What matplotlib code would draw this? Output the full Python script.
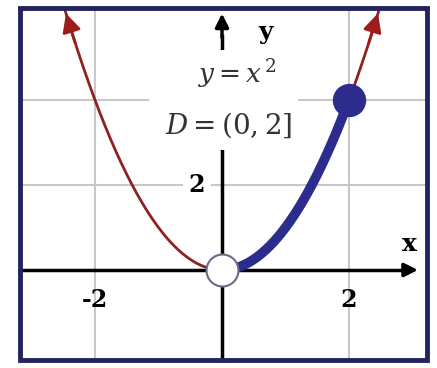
import numpy as np
import matplotlib.pyplot as plt
from matplotlib.patches import Rectangle

# the function shown on the chart, y = x^2
x_min, x_max = -2.47, 2.47
domain = [0, 2]            # D = (0, 2]
x_grid = [-2, 2]
y_grid = [2, 4]
x_ticks = [-2, 2]
x_tick_labels = ["-2", "2"]
y_ticks = [2]
y_tick_labels = ["2"]

red = "#8e2222"
blue = "#2c2c8c"
navy = "#23235e"

fig = plt.figure(figsize=(4.37, 3.68), dpi=100)
ax = fig.add_axes([0, 0, 1, 1])
ax.set_xlim(-3.496, 3.386)
ax.set_ylim(-2.306, 6.353)
ax.axis("off")

# grid
for gx in x_grid:
    ax.plot([gx, gx], [-2.12, 6.16], color="#c8c8c8", lw=1.5, zorder=1)
for gy in y_grid:
    ax.plot([-3.18, 3.23], [gy, gy], color="#c8c8c8", lw=1.5, zorder=1)

# axes with arrows
ax.plot([-3.18, 2.95], [0, 0], color="black", lw=2.5, zorder=2)
ax.annotate("", xy=(3.13, 0), xytext=(2.9, 0),
            arrowprops=dict(arrowstyle="-|>", color="black", lw=2.5,
                            mutation_scale=20), zorder=2)
ax.plot([0, 0], [-2.12, 5.5], color="black", lw=2.5, zorder=2)
ax.annotate("", xy=(0, 6.1), xytext=(0, 5.4),
            arrowprops=dict(arrowstyle="-|>", color="black", lw=2.5,
                            mutation_scale=20), zorder=2)

# white area behind the formula text
ax.add_patch(Rectangle((-1.15, 2.82), 2.35, 2.36, facecolor="white",
                       edgecolor="none", zorder=3))

# red parabola with arrow ends
xs = np.linspace(x_min, x_max, 300)
ax.plot(xs, xs ** 2, color=red, lw=2, zorder=4)
for sgn in (-1, 1):
    x0 = sgn * 2.3
    x1 = sgn * x_max
    ax.annotate("", xy=(x1, x1 ** 2), xytext=(x0, x0 ** 2),
                arrowprops=dict(arrowstyle="-|>", color="#a01c1c", lw=2,
                                mutation_scale=28), zorder=4)

# blue part on the domain
xd = np.linspace(domain[0], domain[1], 200)
ax.plot(xd, xd ** 2, color=blue, lw=7, solid_capstyle="round", zorder=5)
ax.plot([domain[1]], [domain[1] ** 2], "o", ms=23, color=blue, zorder=6)
ax.plot([domain[0]], [domain[0] ** 2], "o", ms=23, mfc="white",
        mec="#6a6a8a", mew=1.5, zorder=6)

# text
ax.text(0.25, 4.6, r"$y = x^{\,2}$", fontsize=19, ha="center", va="center",
        color="#333333", zorder=7, math_fontfamily="dejavuserif")
ax.text(0.1, 3.4, r"$D = (0,2]$", fontsize=20, ha="center", va="center",
        color="#333333", zorder=7, math_fontfamily="dejavuserif")
ax.text(0.68, 5.6, "y", fontsize=18, fontweight="bold", ha="center",
        va="center", family="DejaVu Serif", zorder=7)
ax.text(2.95, 0.6, "x", fontsize=18, fontweight="bold", ha="center",
        va="center", family="DejaVu Serif", zorder=7)
for tx, lab in zip(x_ticks, x_tick_labels):
    ax.text(tx, -0.7, lab, fontsize=17, fontweight="bold", ha="center",
            va="center", family="DejaVu Serif", zorder=7)
for ty, lab in zip(y_ticks, y_tick_labels):
    ax.text(-0.4, ty, lab, fontsize=17, fontweight="bold", ha="center",
            va="center", family="DejaVu Serif", zorder=7,
            bbox=dict(facecolor="white", edgecolor="none", pad=4))

# frame
ax.add_patch(Rectangle((-3.18, -2.12), 6.41, 8.28, facecolor="none",
                       edgecolor=navy, lw=3.5, zorder=8))

fig.savefig("out.png", dpi=100)
